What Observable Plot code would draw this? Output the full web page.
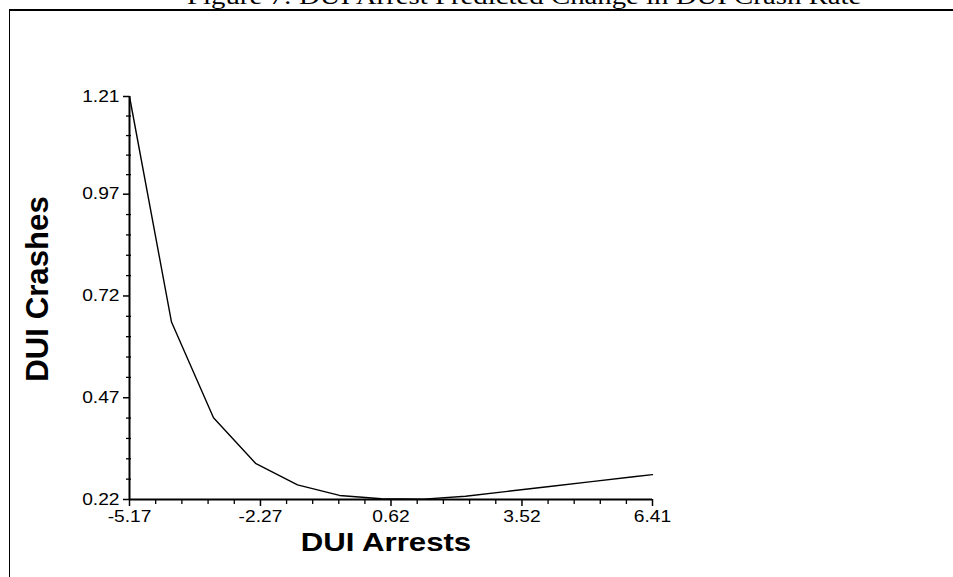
<!DOCTYPE html>
<html>
<head>
<meta charset="utf-8">
<script src="https://cdn.jsdelivr.net/npm/d3@7"></script>
<script src="https://cdn.jsdelivr.net/npm/@observablehq/plot@0.6"></script>
<style>
  html, body { margin: 0; padding: 0; background: #fff; }
  #wrap { position: relative; width: 953px; height: 577px; overflow: hidden; background: #fff; }
  #frame { position: absolute; left: 9px; top: 9px; width: 960px; height: 600px;
           border-top: 2px solid #000; border-left: 1.5px solid #000; box-sizing: border-box; }
  #title { position: absolute; left: 187px; top: -16px; margin: 0; white-space: nowrap;
           font: 24px/24px "Liberation Serif", "Times New Roman", serif; color: #000;
           transform: scaleX(1.2); transform-origin: left center; font-weight: normal; }
  #chart { position: absolute; left: 0; top: 0; }
</style>
</head>
<body>
<div id="wrap">
  <div id="frame"></div>
  <h1 id="title">Figure 7: DUI Arrest Predicted Change in DUI Crash Rate</h1>
  <div id="chart"></div>
</div>
<script>
// Data
const arrests = [-5.17, -4.24, -3.31, -2.38, -1.45, -0.52, 0.41, 1.34, 2.27, 3.20, 4.13, 5.06, 5.99, 6.41];
const crashes = [1.21, 0.656, 0.421, 0.309, 0.256, 0.230, 0.222, 0.221, 0.228, 0.240, 0.252, 0.264, 0.276, 0.281];
const xTickLabels = [-5.17, -2.27, 0.62, 3.52, 6.41];
const yTickLabels = [0.22, 0.47, 0.72, 0.97, 1.21];
const xLabel = "DUI Arrests";
const yLabel = "DUI Crashes";

const data = arrests.map((x, i) => ({x, y: crashes[i]}));

// minor ticks: 4 between each pair of labelled ticks
function minors(majors) {
  const out = [];
  for (let i = 0; i < majors.length - 1; i++) {
    const a = majors[i], b = majors[i + 1];
    for (let k = 1; k < 5; k++) out.push(a + (b - a) * k / 5);
  }
  return out;
}
const xMinor = minors(xTickLabels);
const yMinor = minors(yTickLabels);

const chart = Plot.plot({
  width: 953,
  height: 577,
  marginLeft: 129,
  marginRight: 301,
  marginTop: 96,
  marginBottom: 78,
  style: {fontFamily: "'Liberation Sans', Arial, sans-serif", background: "transparent", color: "#000"},
  x: {domain: [-5.17, 6.41]},
  y: {domain: [0.22, 1.21]},
  marks: [
    Plot.axisX({ticks: xMinor, tickSize: 5, tickFormat: () => "", label: null, strokeWidth: 1.3}),
    Plot.axisX({ticks: xTickLabels, tickSize: 7, tickPadding: 4, tickFormat: d => d.toFixed(2), label: null, fontSize: 16, strokeWidth: 1.5}),
    Plot.axisY({ticks: yMinor, tickSize: 5, dx: 2, tickFormat: () => "", label: null, strokeWidth: 1.3}),
    Plot.axisY({ticks: yTickLabels, tickSize: 6, tickPadding: 4, tickFormat: d => d.toFixed(2), label: null, fontSize: 16, strokeWidth: 1.5}),
    Plot.ruleX([-5.17], {stroke: "#000", strokeWidth: 2}),
    Plot.ruleY([0.22], {stroke: "#000", strokeWidth: 2}),
    Plot.line(data, {x: "x", y: "y", stroke: "#000", strokeWidth: 1.4}),
    Plot.text([xLabel], {frameAnchor: "bottom", dy: 51, dx: -5, fontSize: 26, fontWeight: "bold", fill: "#000"}),
    Plot.text([yLabel], {frameAnchor: "left", textAnchor: "middle", rotate: -90, dx: -91, dy: -9, fontSize: 26, fontWeight: "bold", fill: "#000"})
  ]
});

// the reference's type is stretched horizontally by about 1.2
d3.select(chart).selectAll("text").each(function () {
  const t = d3.select(this);
  const tr = t.attr("transform") || "";
  const rotated = /rotate/.test(tr);
  const s = rotated ? "scale(1.2,1.2)" : "scale(1.2,1)";
  const xa = t.attr("x");
  const x = xa && !/em/.test(xa) ? parseFloat(xa) || 0 : 0;
  t.attr("transform", `${tr} translate(${x},0) ${s} translate(${-x},0)`.trim());
});

document.getElementById("chart").appendChild(chart);
</script>
</body>
</html>
